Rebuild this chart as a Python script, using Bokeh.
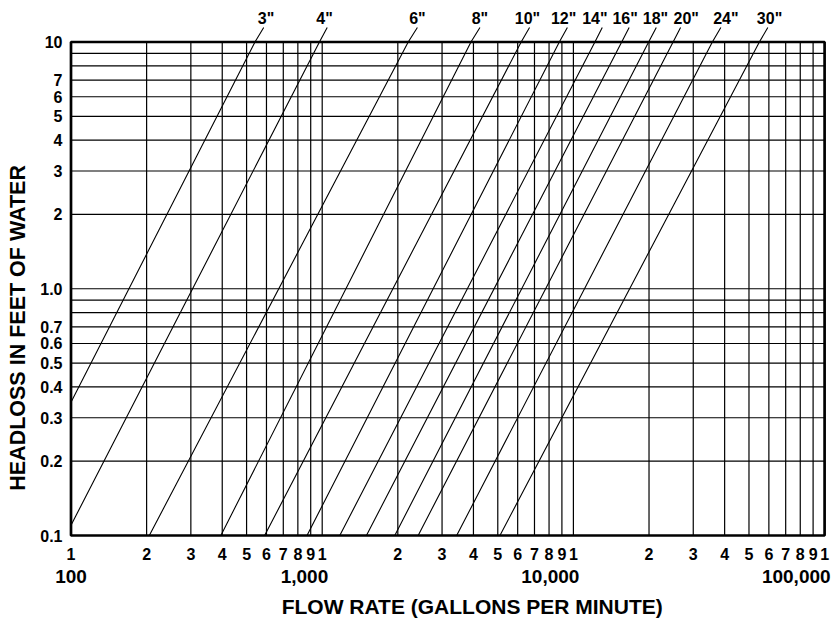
import math
from bokeh.plotting import figure
from bokeh.models import Range1d, ColumnDataSource
from bokeh.embed import file_html
from bokeh.resources import INLINE
from bokeh.core.properties import value, field

# ---------------- data ----------------
pipe_sizes = ['3"', '4"', '6"', '8"', '10"', '12"', '14"', '16"', '18"', '20"', '24"', '30"']
# where each line starts (left edge or the 0.1 ft line)
flow_start = [100, 100, 205, 395, 590, 870, 1175, 1500, 1945, 2410, 3430, 5100]
head_start = [0.347, 0.11, 0.1, 0.1, 0.1, 0.1, 0.1, 0.1, 0.1, 0.1, 0.1, 0.1]
# flow where each line meets the 10 ft line
flow_at_top = [540, 975, 2200, 3910, 6195, 8790, 12180, 15570, 19930, 24940, 35740, 55000]
# end of the leader above the chart, and the label position
flow_leader = [585, 1047, 2393, 4246, 6690, 9463, 13030, 16670, 21380, 26710, 38630, 59430]
flow_label = [598, 1022, 2393, 4246, 6561, 9142, 12180, 16070, 21210, 28120, 40460, 60370]

HEAD_MIN, HEAD_MAX = 0.1, 10.0
HEAD_LEADER = 11.45
FLOW_MIN, FLOW_MAX = 100, 100000

x_grid = [200, 300, 400, 500, 600, 700, 800, 900,
          1000, 2000, 3000, 4000, 5000, 6000, 7000, 8000, 9000,
          10000, 20000, 30000, 40000, 50000, 60000, 70000, 80000, 90000]
y_grid = [0.2, 0.3, 0.4, 0.5, 0.6, 0.7, 0.8, 0.9, 1.0, 2, 3, 4, 5, 6, 7, 8, 9]

x_tick_values = [100, 200, 300, 400, 500, 600, 700, 800, 900,
                 1000, 2000, 3000, 4000, 5000, 6000, 7000, 8000, 9000,
                 10000, 20000, 30000, 40000, 50000, 60000, 70000, 80000, 90000,
                 100000]
x_tick_labels = ["1", "2", "3", "4", "5", "6", "7", "8", "9",
                 "1", "2", "3", "4", "5", "6", "7", "8", "9",
                 "1", "2", "3", "4", "5", "6", "7", "8", "9",
                 "1"]
y_tick_values = [0.1, 0.2, 0.3, 0.4, 0.5, 0.6, 0.7, 1.0, 2, 3, 4, 5, 6, 7, 10]
y_tick_labels = ["0.1", "0.2", "0.3", "0.4", "0.5", "0.6", "0.7", "1.0",
                 "2", "3", "4", "5", "6", "7", "10"]
decade_values = [100, 1000, 10000, 100000]
decade_labels = ["100", "1,000", "10,000", "100,000"]
decade_align = ["center", "right", "right", "right"]

x_title = "FLOW RATE (GALLONS PER MINUTE)"
y_title = "HEADLOSS IN FEET OF WATER"

# ---------------- layout (pixels) ----------------
FONT = "Liberation Sans"
W, H = 831, 620
PX_X = 251.2      # pixels per decade of flow
PX_Y = 246.75     # pixels per decade of headloss
X100_PX = 70.5    # pixel column of FLOW_MIN
Y10_PX = 41.5     # pixel row of HEAD_MAX


def flow_px(q, dpx):
    """flow value dpx pixels to the right of q"""
    return q * 10 ** (dpx / PX_X)


def head_px(h, dpx):
    """headloss value dpx pixels below h"""
    return h * 10 ** (-dpx / PX_Y)


x_lo = flow_px(FLOW_MIN, -X100_PX)
x_hi = flow_px(FLOW_MIN, W - X100_PX)
y_hi = head_px(HEAD_MAX, -Y10_PX)
y_lo = head_px(HEAD_MAX, H - Y10_PX)

p = figure(
    title=None,
    x_axis_type="log", y_axis_type="log",
    x_axis_location=None, y_axis_location=None,
    x_range=Range1d(x_lo, x_hi), y_range=Range1d(y_lo, y_hi),
    frame_width=W, frame_height=H, min_border=0,
    toolbar_location=None, output_backend="svg",
)
p.outline_line_color = None
for g in p.grid:
    g.visible = False
p.background_fill_color = "white"
p.border_fill_color = "white"

# grid lines inside the chart box
p.segment(x0=x_grid, y0=[HEAD_MIN] * len(x_grid), x1=x_grid, y1=[HEAD_MAX] * len(x_grid),
          line_color="black", line_width=1.2)
p.segment(x0=[FLOW_MIN] * len(y_grid), y0=y_grid, x1=[FLOW_MAX] * len(y_grid), y1=y_grid,
          line_color="black", line_width=1.2)

# pipe lines with their leaders
xs = [[a, b, c] for a, b, c in zip(flow_start, flow_at_top, flow_leader)]
ys = [[h, HEAD_MAX, HEAD_LEADER] for h in head_start]
p.multi_line(xs=xs, ys=ys, line_color="black", line_width=1.1)

# chart box
p.quad(left=[FLOW_MIN], right=[FLOW_MAX], bottom=[HEAD_MIN], top=[HEAD_MAX],
       fill_color=None, line_color="black", line_width=2.7)

# texts are anchored at the centre of their capitals
txt = dict(text_font=value(FONT), text_font_style="bold", text_color="black",
           text_baseline="alphabetic")

# pipe size labels
p.text(x=flow_label, y=[head_px(HEAD_MAX, -24)] * len(flow_label), text=pipe_sizes,
       text_align="center", text_font_size="16px", **txt)

# headloss tick labels
p.text(x=[flow_px(FLOW_MIN, -8.5)] * len(y_tick_values),
       y=y_tick_values, text=y_tick_labels,
       text_align="right", text_font_size="16px", **txt)

# flow tick labels (digits)
p.text(x=x_tick_values, y=[head_px(HEAD_MIN, 18.5)] * len(x_tick_values), text=x_tick_labels,
       text_align="center", text_font_size="16px", **txt)

# decade labels
dec_src = ColumnDataSource(dict(
    x=[flow_px(v, 0 if a == "center" else 6) for v, a in zip(decade_values, decade_align)],
    y=[head_px(HEAD_MIN, 40.5)] * len(decade_values),
    text=decade_labels, align=decade_align))
p.text(x="x", y="y", text="text", source=dec_src, text_align=field("align"),
       text_font_size="19px", **txt)

# axis titles
p.text(x=[flow_px(FLOW_MIN, 401.2)], y=[head_px(HEAD_MIN, 71.0)], text=[x_title],
       text_align="center", text_font_size="21px", **txt)
p.text(x=[flow_px(FLOW_MIN, -53.4)], y=[head_px(HEAD_MIN, -207.6)], text=[y_title],
       angle=math.pi / 2, text_align="center", text_font_size="21.5px", **txt)

open("out.html", "w").write(file_html(p, INLINE))
